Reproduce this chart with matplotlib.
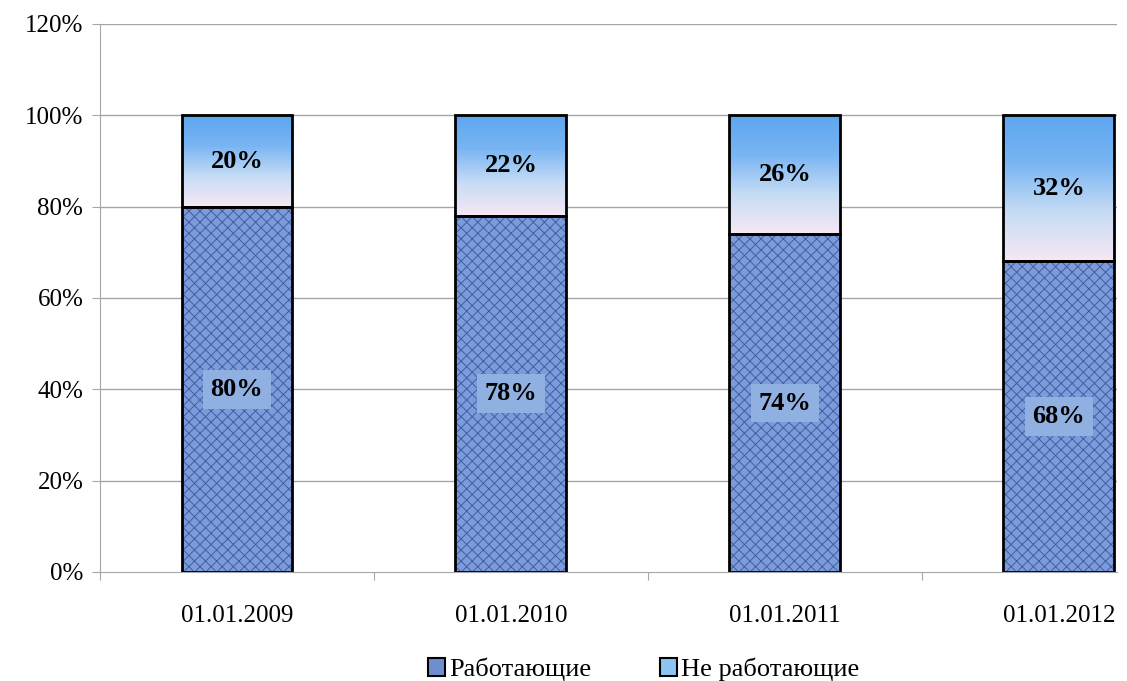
import numpy as np
import matplotlib.pyplot as plt
from matplotlib.patches import Rectangle
from matplotlib.colors import LinearSegmentedColormap

# Données
dates = ['01.01.2009', '01.01.2010', '01.01.2011', '01.01.2012']
working = [80, 78, 74, 68]
not_working = [20, 22, 26, 32]
labels = ['Работающие', 'Не работающие']

plt.rcParams['font.family'] = ['Liberation Serif', 'DejaVu Serif']
plt.rcParams['hatch.color'] = '#3f5ea8'
plt.rcParams['hatch.linewidth'] = 0.7

fig = plt.figure(figsize=(11.27, 6.81), dpi=100)
ax = fig.add_axes([100 / 1127, 1 - 572 / 681, 1017 / 1127, 548 / 681])

x = np.arange(len(dates))
width = 0.405

# grille
for yv in range(20, 121, 20):
    ax.axhline(yv, color='#a6a6a6', linewidth=1, zorder=0)

# dégradé pour la partie haute
grad = np.linspace(0, 1, 256).reshape(-1, 1)
top_cmap = LinearSegmentedColormap.from_list('top', ['#f7e8f3', '#c6dcf5', '#79b5f2', '#5ca6f0'])

bars_w = ax.bar(x, working, width, color='#7d9bd8', hatch='xxx', linewidth=0, zorder=2)
bars_n = ax.bar(x, not_working, width, bottom=working, color='none', linewidth=0, zorder=2)

for i in range(len(dates)):
    # partie haute : dégradé
    im = ax.imshow(grad, cmap=top_cmap, aspect='auto', origin='lower',
                   extent=[x[i] - width / 2, x[i] + width / 2, working[i], working[i] + not_working[i]],
                   zorder=1.5)
    im.set_clip_path(bars_n[i])
    # contours
    for bot, h in [(0, working[i]), (working[i], not_working[i])]:
        ax.add_patch(Rectangle((x[i] - width / 2, bot), width, h, fill=False,
                               edgecolor='black', linewidth=2, zorder=3))
    ax.text(x[i], working[i] / 2, f'{working[i]}%', ha='center', va='center',
            fontsize=19, fontweight='bold', zorder=4,
            bbox=dict(boxstyle='square,pad=0.3', facecolor='#8fb0e0', edgecolor='none'))
    ax.text(x[i], working[i] + not_working[i] / 2, f'{not_working[i]}%', ha='center',
            va='center', fontsize=19, fontweight='bold', zorder=4)

ax.set_xlim(-0.5, 3.212)
ax.set_ylim(0, 120)
ax.set_yticks(range(0, 121, 20))
ax.set_yticklabels([f'{v}%' for v in range(0, 121, 20)], fontsize=18)
ax.set_xticks([-0.5, 0.5, 1.5, 2.5])
ax.set_xticklabels([])
ax.set_xticks(x, minor=True)
ax.set_xticklabels(dates, minor=True, fontsize=18)
ax.tick_params(axis='x', which='minor', length=0, pad=24)
ax.tick_params(axis='x', which='major', length=6, color='#a6a6a6')
ax.tick_params(axis='y', length=6, color='#a6a6a6', pad=6)

for s in ['top', 'right']:
    ax.spines[s].set_visible(False)
for s in ['left', 'bottom']:
    ax.spines[s].set_color('#a6a6a6')

# légende
h1 = Rectangle((0, 0), 1, 1, facecolor='#6f8ed0', edgecolor='black', linewidth=1.5)
h2 = Rectangle((0, 0), 1, 1, facecolor='#8cc4f4', edgecolor='black', linewidth=1.5)
fig.legend([h1, h2], labels, loc='lower center', bbox_to_anchor=(0.571, -0.035), ncol=2,
           frameon=False, fontsize=19, handlelength=0.65, handleheight=0.65,
           handletextpad=0.15, columnspacing=2.6)

fig.savefig('out.png', dpi=100)
